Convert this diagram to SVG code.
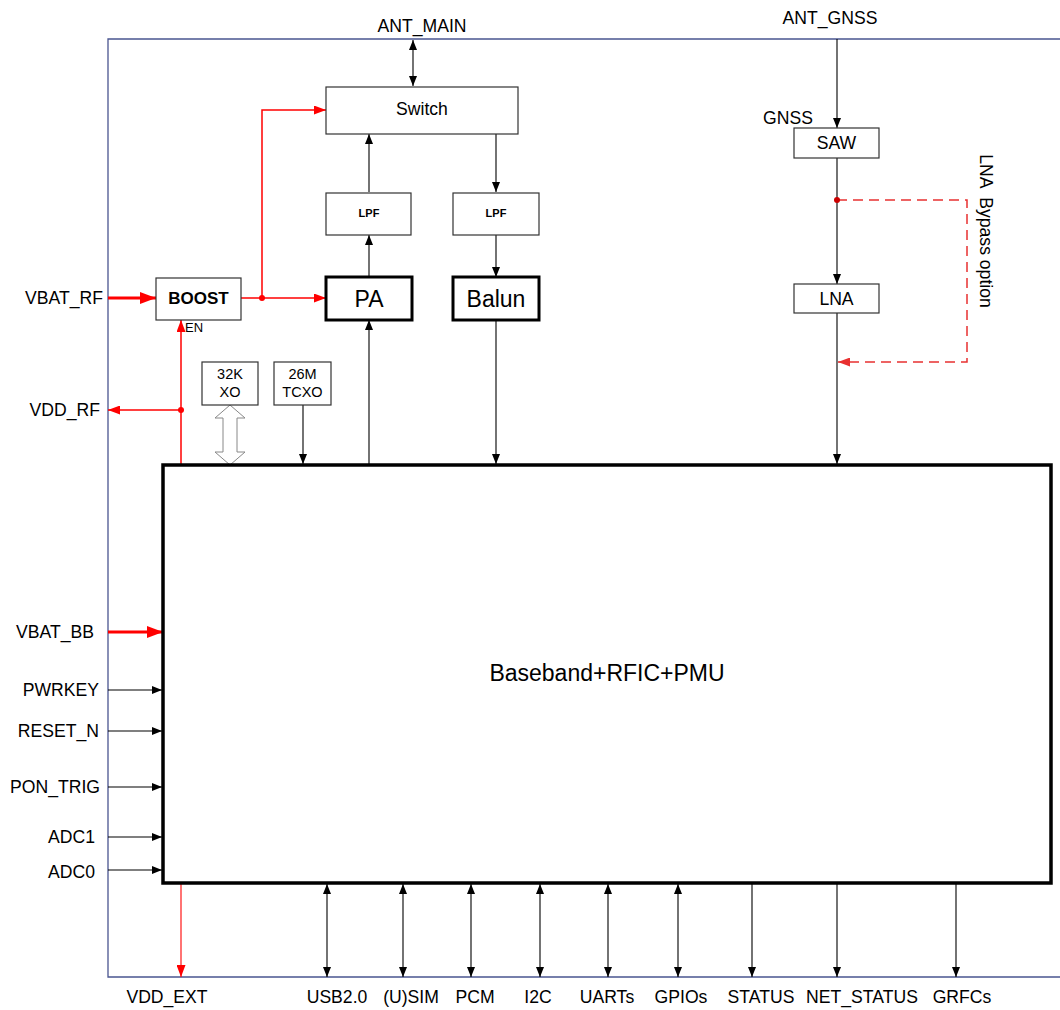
<svg xmlns="http://www.w3.org/2000/svg" width="1060" height="1010" viewBox="0 0 1060 1010">
<style>
text{font-family:"Liberation Sans",Arial,sans-serif;fill:#000}
.lbl{font-size:17.6px}
.box{fill:#fff;stroke:#333;stroke-width:1.2}
.thick{fill:#fff;stroke:#000;stroke-width:3}
.ln{fill:none;stroke:#000;stroke-width:1.1}
.red{fill:none;stroke:#f00;stroke-width:1.5}
.redT{fill:none;stroke:#f00;stroke-width:3}
.dash{fill:none;stroke:#e83030;stroke-width:1.5;stroke-dasharray:10,6}
.frame{fill:none;stroke:#4a5590;stroke-width:1.3}
</style>
<defs>
<marker id="a" markerUnits="userSpaceOnUse" markerWidth="10" markerHeight="8" refX="10" refY="4" orient="auto-start-reverse"><path d="M0,0 L10,4 L0,8 z" fill="#000"/></marker>
<marker id="r" markerUnits="userSpaceOnUse" markerWidth="12" markerHeight="9" refX="12" refY="4.5" orient="auto-start-reverse"><path d="M0,0 L12,4.5 L0,9 z" fill="#f00"/></marker>
<marker id="rb" markerUnits="userSpaceOnUse" markerWidth="16" markerHeight="12" refX="16" refY="6" orient="auto"><path d="M0,0 L16,6 L0,12 z" fill="#f00"/></marker>
<marker id="rd" markerUnits="userSpaceOnUse" markerWidth="12" markerHeight="9" refX="12" refY="4.5" orient="auto"><path d="M0,0 L12,4.5 L0,9 z" fill="#e83030"/></marker>
</defs>

<g id="frame">
<path class="frame" d="M1060,39 H108 V977 H1060"/>
</g>

<g id="connectors">
<line class="ln" x1="413" y1="40" x2="413" y2="86" marker-start="url(#a)" marker-end="url(#a)"/>
<line class="ln" x1="369" y1="192" x2="369" y2="134" marker-end="url(#a)"/>
<line class="ln" x1="496" y1="134" x2="496" y2="192" marker-end="url(#a)"/>
<line class="ln" x1="369" y1="277" x2="369" y2="235" marker-end="url(#a)"/>
<line class="ln" x1="496" y1="235" x2="496" y2="277" marker-end="url(#a)"/>
<line class="ln" x1="369" y1="465" x2="369" y2="320" marker-end="url(#a)"/>
<line class="ln" x1="496" y1="320" x2="496" y2="464" marker-end="url(#a)"/>
<line class="ln" x1="303" y1="405" x2="303" y2="464" marker-end="url(#a)"/>
<polygon points="230,405 245,418 237,418 237,452 245,452 230,465 215,452 223,452 223,418 215,418" fill="#fff" stroke="#888" stroke-width="1"/>
<line class="redT" x1="108" y1="298" x2="156" y2="298" marker-end="url(#rb)"/>
<line class="red" x1="241" y1="298" x2="326" y2="298" marker-end="url(#r)"/>
<path class="red" d="M262,298 V110 H326" marker-end="url(#r)"/>
<circle cx="262" cy="298" r="3" fill="#f00"/>
<line class="red" x1="181" y1="465" x2="181" y2="320" marker-end="url(#r)"/>
<line class="red" x1="181" y1="410" x2="108" y2="410" marker-end="url(#r)"/>
<circle cx="181" cy="410" r="3" fill="#f00"/>
<line class="redT" x1="108" y1="632" x2="163" y2="632" marker-end="url(#rb)"/>
<line x1="181" y1="883" x2="181" y2="977" stroke="#f00" stroke-width="1.1" marker-end="url(#r)"/>
<line class="ln" x1="837" y1="39" x2="837" y2="128" marker-end="url(#a)"/>
<line class="ln" x1="837" y1="158" x2="837" y2="284" marker-end="url(#a)"/>
<line class="ln" x1="837" y1="313" x2="837" y2="464" marker-end="url(#a)"/>
<path class="dash" d="M837,200 H967 V362 H838" marker-end="url(#rd)"/>
<circle cx="837" cy="200" r="3" fill="#c00"/>
<line class="ln" x1="108" y1="690" x2="162" y2="690" marker-end="url(#a)"/>
<line class="ln" x1="108" y1="731" x2="162" y2="731" marker-end="url(#a)"/>
<line class="ln" x1="108" y1="787" x2="162" y2="787" marker-end="url(#a)"/>
<line class="ln" x1="108" y1="837" x2="162" y2="837" marker-end="url(#a)"/>
<line class="ln" x1="108" y1="870" x2="162" y2="870" marker-end="url(#a)"/>
<line class="ln" x1="327" y1="884" x2="327" y2="977" marker-start="url(#a)" marker-end="url(#a)"/>
<line class="ln" x1="403" y1="884" x2="403" y2="977" marker-start="url(#a)" marker-end="url(#a)"/>
<line class="ln" x1="471" y1="884" x2="471" y2="977" marker-start="url(#a)" marker-end="url(#a)"/>
<line class="ln" x1="540" y1="884" x2="540" y2="977" marker-start="url(#a)" marker-end="url(#a)"/>
<line class="ln" x1="608" y1="884" x2="608" y2="977" marker-start="url(#a)" marker-end="url(#a)"/>
<line class="ln" x1="678" y1="884" x2="678" y2="977" marker-start="url(#a)" marker-end="url(#a)"/>
<line class="ln" x1="752" y1="884" x2="752" y2="977" marker-end="url(#a)"/>
<line class="ln" x1="837" y1="884" x2="837" y2="977" marker-end="url(#a)"/>
<line class="ln" x1="956" y1="884" x2="956" y2="977" marker-end="url(#a)"/>
</g>

<g id="switch"><rect class="box" x="326" y="87" width="192" height="47"/><text class="lbl" x="422" y="115" text-anchor="middle">Switch</text></g>
<g id="lpf1"><rect class="box" x="326" y="193" width="85" height="42"/><text x="369" y="217" font-size="11" font-weight="bold" text-anchor="middle">LPF</text></g>
<g id="lpf2"><rect class="box" x="453" y="193" width="86" height="42"/><text x="496" y="217" font-size="11" font-weight="bold" text-anchor="middle">LPF</text></g>
<g id="pa"><rect class="thick" x="326" y="277" width="86" height="43"/><text x="369" y="307" font-size="23" text-anchor="middle">PA</text></g>
<g id="balun"><rect class="thick" x="453" y="277" width="86" height="43"/><text x="496" y="307" font-size="23" text-anchor="middle">Balun</text></g>
<g id="boost"><rect class="box" x="156" y="278" width="85" height="42"/><text x="198.5" y="304" font-size="17" font-weight="bold" text-anchor="middle">BOOST</text><text x="185" y="332" font-size="13">EN</text></g>
<g id="xo"><rect class="box" x="202" y="362" width="56" height="43"/><text x="230" y="379" font-size="14.5" text-anchor="middle">32K</text><text x="230" y="397" font-size="14.5" text-anchor="middle">XO</text></g>
<g id="tcxo"><rect class="box" x="274" y="362" width="57" height="43"/><text x="302.5" y="379" font-size="14.5" text-anchor="middle">26M</text><text x="302.5" y="397" font-size="14.5" text-anchor="middle">TCXO</text></g>
<g id="saw"><rect class="box" x="794" y="128" width="85" height="30"/><text class="lbl" x="836.5" y="149" text-anchor="middle">SAW</text><text class="lbl" x="788" y="124" text-anchor="middle">GNSS</text></g>
<g id="lna"><rect class="box" x="794" y="284" width="85" height="29"/><text class="lbl" x="836.5" y="305" text-anchor="middle">LNA</text></g>
<g id="bypass-label"><text class="lbl" transform="translate(980,231) rotate(90)" text-anchor="middle" xml:space="preserve">LNA  Bypass option</text></g>
<g id="baseband"><rect x="163" y="465" width="888" height="418" fill="#fff" stroke="#000" stroke-width="3.5"/><text x="607" y="681" font-size="23" text-anchor="middle">Baseband+RFIC+PMU</text></g>

<g id="labels">
<text class="lbl" x="422" y="32" text-anchor="middle">ANT_MAIN</text>
<text class="lbl" x="830" y="24" text-anchor="middle">ANT_GNSS</text>
<text class="lbl" x="103" y="304" text-anchor="end">VBAT_RF</text>
<text class="lbl" x="100" y="416" text-anchor="end">VDD_RF</text>
<text class="lbl" x="94" y="638" text-anchor="end">VBAT_BB</text>
<text class="lbl" x="99" y="696" text-anchor="end">PWRKEY</text>
<text class="lbl" x="99" y="737" text-anchor="end">RESET_N</text>
<text class="lbl" x="100" y="793" text-anchor="end">PON_TRIG</text>
<text class="lbl" x="95" y="843" text-anchor="end">ADC1</text>
<text class="lbl" x="95" y="878" text-anchor="end">ADC0</text>
<text class="lbl" x="167" y="1003" text-anchor="middle">VDD_EXT</text>
<text class="lbl" x="337" y="1003" text-anchor="middle">USB2.0</text>
<text class="lbl" x="411" y="1003" text-anchor="middle">(U)SIM</text>
<text class="lbl" x="475" y="1003" text-anchor="middle">PCM</text>
<text class="lbl" x="538" y="1003" text-anchor="middle">I2C</text>
<text class="lbl" x="607" y="1003" text-anchor="middle">UARTs</text>
<text class="lbl" x="681" y="1003" text-anchor="middle">GPIOs</text>
<text class="lbl" x="761" y="1003" text-anchor="middle">STATUS</text>
<text class="lbl" x="862" y="1003" text-anchor="middle">NET_STATUS</text>
<text class="lbl" x="962" y="1003" text-anchor="middle">GRFCs</text>
</g>
</svg>
